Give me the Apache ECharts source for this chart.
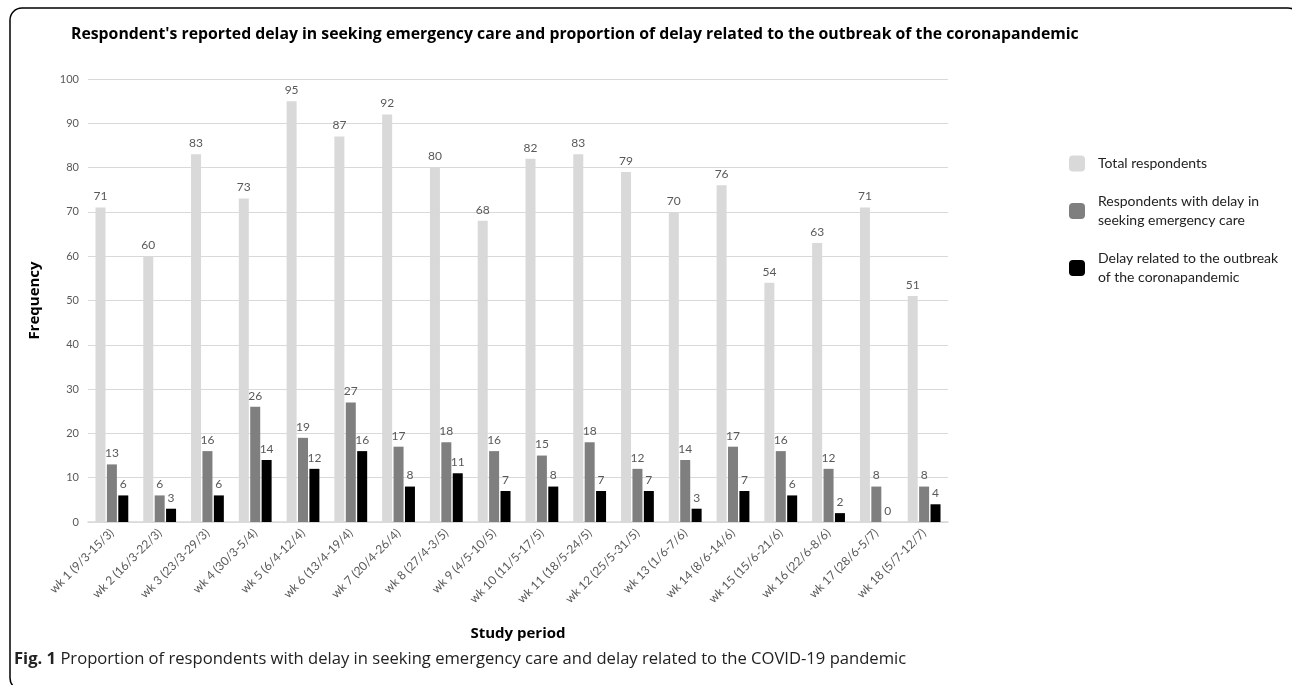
<!DOCTYPE html>
<html>
<head>
<meta charset="utf-8">
<script src="https://cdn.jsdelivr.net/npm/echarts@6/dist/echarts.min.js"></script>
<style>
  html, body { margin: 0; padding: 0; background: #fff; }
  #chart { width: 1292px; height: 685px; }
</style>
</head>
<body>
<div id="chart"></div>
<script>
const weeks = [
  'wk 1 (9/3-15/3)', 'wk 2 (16/3-22/3)', 'wk 3 (23/3-29/3)', 'wk 4 (30/3-5/4)',
  'wk 5 (6/4-12/4)', 'wk 6 (13/4-19/4)', 'wk 7 (20/4-26/4)', 'wk 8 (27/4-3/5)',
  'wk 9 (4/5-10/5)', 'wk 10 (11/5-17/5)', 'wk 11 (18/5-24/5)', 'wk 12 (25/5-31/5)',
  'wk 13 (1/6-7/6)', 'wk 14 (8/6-14/6)', 'wk 15 (15/6-21/6)', 'wk 16 (22/6-8/6)',
  'wk 17 (28/6-5/7)', 'wk 18 (5/7-12/7)'
];
const totalRespondents = [71, 60, 83, 73, 95, 87, 92, 80, 68, 82, 83, 79, 70, 76, 54, 63, 71, 51];
const delayedCare = [13, 6, 16, 26, 19, 27, 17, 18, 16, 15, 18, 12, 14, 17, 16, 12, 8, 8];
const coronaDelay = [6, 3, 6, 14, 12, 16, 8, 11, 7, 8, 7, 7, 3, 7, 6, 2, 0, 4];

const seriesNames = [
  'Total respondents',
  'Respondents with delay in\nseeking emergency care',
  'Delay related to the outbreak\nof the coronapandemic'
];
const seriesColors = ['#d9d9d9', '#7f7f7f', '#000000'];

const labelGrey = '#595959';
const font = 'Lato';
const boldFont = 'Open Sans';

function barSeries(name, data, color) {
  return {
    name: name,
    type: 'bar',
    data: data,
    barWidth: 10,
    barGap: '14%',
    itemStyle: { color: color },
    label: {
      show: true,
      position: 'top',
      distance: 5,
      color: labelGrey,
      fontSize: 12,
      fontFamily: font
    }
  };
}

const chart = echarts.init(document.getElementById('chart'));
chart.setOption({
  animation: false,
  textStyle: { fontFamily: font },
  title: {
    text: "Respondent's reported delay in seeking emergency care and proportion of delay related to the outbreak of the coronapandemic",
    left: 66,
    top: 21,
    textStyle: { fontSize: 15.8, fontWeight: 'bold', color: '#000', fontFamily: boldFont }
  },
  legend: {
    orient: 'vertical',
    left: 1064,
    top: 149,
    itemWidth: 16,
    itemHeight: 16,
    itemGap: 19,
    icon: 'roundRect',
    data: seriesNames,
    textStyle: { fontSize: 14, color: '#222', lineHeight: 19, fontFamily: font, padding: [0, 0, 0, 8] }
  },
  grid: { left: 88, right: 344, top: 79, bottom: 163 },
  xAxis: {
    type: 'category',
    data: weeks,
    name: 'Study period',
    nameLocation: 'middle',
    nameGap: 104,
    nameTextStyle: { fontSize: 15, fontWeight: 'bold', color: '#000', fontFamily: boldFont },
    axisLine: { lineStyle: { color: '#d9d9d9', width: 1.5 } },
    axisTick: { show: false },
    axisLabel: { interval: 0, rotate: 45, fontSize: 12, color: labelGrey, margin: 9, fontFamily: font }
  },
  yAxis: {
    type: 'value',
    min: 0,
    max: 100,
    interval: 10,
    name: 'Frequency',
    nameLocation: 'middle',
    nameGap: 46,
    nameTextStyle: { fontSize: 15, fontWeight: 'bold', color: '#000', fontFamily: boldFont },
    axisLine: { show: false },
    axisTick: { show: false },
    axisLabel: { fontSize: 11, color: labelGrey, margin: 9, fontFamily: font },
    splitLine: { lineStyle: { color: '#d9d9d9', width: 1 } }
  },
  series: [
    barSeries(seriesNames[0], totalRespondents, seriesColors[0]),
    barSeries(seriesNames[1], delayedCare, seriesColors[1]),
    barSeries(seriesNames[2], coronaDelay, seriesColors[2])
  ],
  graphic: [
    {
      type: 'rect',
      shape: { x: 10, y: 8, width: 1290, height: 682, r: 12 },
      style: { fill: 'none', stroke: '#000', lineWidth: 1.5 },
      silent: true
    },
    {
      type: 'text',
      left: 14,
      top: 651,
      style: {
        text: '{b|Fig. 1} Proportion of respondents with delay in seeking emergency care and delay related to the COVID-19 pandemic',
        fontSize: 16.6,
        fontFamily: 'Open Sans',
        fill: '#222',
        rich: {
          b: { fontSize: 16.6, fontWeight: 'bold', fontFamily: 'Open Sans', fill: '#222' }
        }
      }
    }
  ]
});
</script>
</body>
</html>
